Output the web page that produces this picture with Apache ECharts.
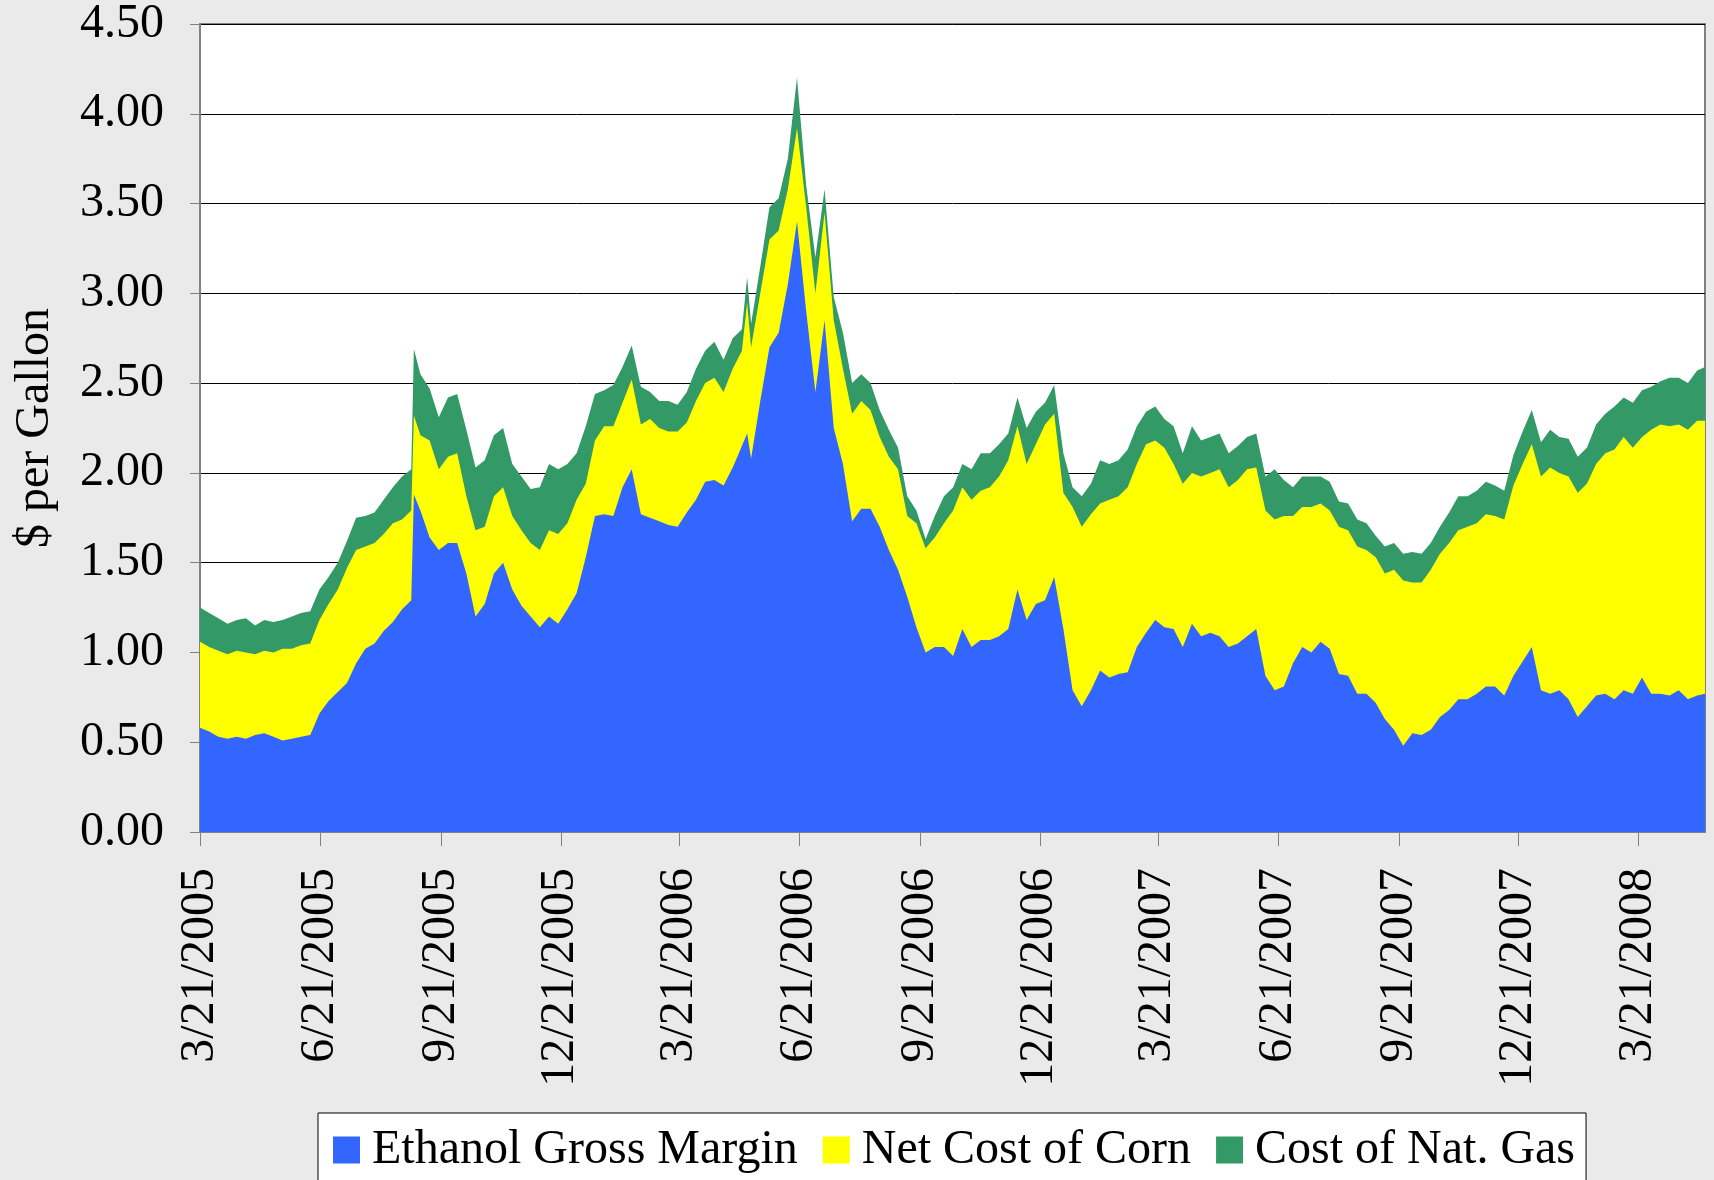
<!DOCTYPE html>
<html>
<head>
<meta charset="utf-8">
<script src="https://cdn.jsdelivr.net/npm/echarts@6/dist/echarts.min.js"></script>
<style>
  html, body { margin: 0; padding: 0; background: #eaeaea; }
  #chart { width: 1714px; height: 1180px; }
</style>
</head>
<body>
<div id="chart"></div>
<script>
// days since 3/21/2005 (weekly readings, plus a few spike days)
const startDate = [2005, 2, 21];
const dayOffsets = [0,7,14,21,28,35,42,49,56,63,70,77,84,91,98,105,112,119,126,133,140,147,154,161,163,
  168,175,182,189,196,203,210,217,224,231,238,245,252,259,266,273,280,287,294,301,308,315,322,329,336,
  343,350,357,364,371,378,385,392,399,406,413,417,420,427,434,441,448,455,462,469,476,483,490,497,504,
  511,518,525,532,539,546,553,560,567,574,581,588,595,602,609,616,623,630,637,644,651,658,665,672,679,
  686,693,700,707,714,721,728,735,742,749,756,763,770,777,784,791,798,805,812,819,826,833,840,847,854,
  861,868,875,882,889,896,903,910,917,924,931,938,945,952,959,966,973,980,987,994,1001,1008,1015,1022,
  1029,1036,1043,1050,1057,1064,1071,1078,1085,1092,1099,1106,1113,1120,1127,1134,1141,1147];

// top of each band ($ per gallon, cumulative)
const marginLevel = [0.58,0.56,0.53,0.52,0.53,0.52,0.54,0.55,0.53,0.51,
  0.52,0.53,0.54,0.66,0.73,0.78,0.83,0.94,1.02,1.05,
  1.12,1.17,1.24,1.29,1.88,
  1.79,1.64,1.57,1.61,1.61,1.44,
  1.20,1.27,1.44,1.50,1.35,1.26,1.20,1.14,1.20,1.16,
  1.24,1.33,1.53,1.76,1.77,1.76,1.92,2.02,1.77,1.75,
  1.73,1.71,1.70,1.78,1.85,1.95,1.96,1.93,2.03,2.15,2.22,
  2.08,2.40,2.70,2.78,3.05,3.40,2.90,2.45,2.85,2.25,
  2.05,1.73,1.80,1.80,1.70,1.57,1.46,1.31,1.14,1.00,
  1.03,1.03,0.98,1.13,1.03,1.07,1.07,1.09,1.13,1.35,
  1.18,1.27,1.29,1.42,1.13,0.79,0.70,0.79,0.90,0.86,
  0.88,0.89,1.03,1.11,1.18,1.14,1.13,1.03,1.16,1.09,
  1.11,1.09,1.03,1.05,1.09,1.13,0.87,0.79,0.81,0.94,
  1.03,1.00,1.06,1.02,0.88,0.87,0.77,0.77,0.72,0.63,
  0.57,0.48,0.55,0.54,0.57,0.64,0.68,0.74,0.74,0.77,
  0.81,0.81,0.76,0.87,0.95,1.03,0.79,0.77,0.79,0.74,
  0.64,0.70,0.76,0.77,0.74,0.79,0.77,0.86,0.77,0.77,
  0.76,0.79,0.74,0.76,0.77];

const cornLevel = [1.06,1.03,1.01,0.99,1.01,1.00,0.99,1.01,1.00,1.02,
  1.02,1.04,1.05,1.18,1.27,1.35,1.47,1.57,1.59,1.61,
  1.66,1.72,1.74,1.79,2.32,
  2.21,2.18,2.02,2.09,2.11,1.87,
  1.68,1.70,1.87,1.92,1.76,1.68,1.61,1.57,1.68,1.66,
  1.72,1.85,1.94,2.18,2.26,2.26,2.39,2.52,2.27,2.30,
  2.25,2.23,2.23,2.28,2.40,2.50,2.53,2.45,2.58,2.68,2.95,
  2.70,3.00,3.30,3.35,3.58,3.92,3.48,3.00,3.45,2.85,
  2.58,2.33,2.40,2.35,2.20,2.09,2.02,1.76,1.72,1.58,
  1.64,1.72,1.79,1.92,1.85,1.90,1.92,1.98,2.07,2.26,
  2.05,2.16,2.27,2.33,1.89,1.81,1.70,1.77,1.83,1.85,
  1.87,1.92,2.05,2.16,2.18,2.14,2.05,1.94,2.00,1.98,
  2.00,2.02,1.92,1.96,2.02,2.03,1.79,1.74,1.76,1.76,
  1.81,1.81,1.83,1.79,1.70,1.68,1.59,1.57,1.53,1.44,
  1.46,1.40,1.39,1.39,1.46,1.55,1.61,1.68,1.70,1.72,
  1.77,1.76,1.74,1.93,2.05,2.16,1.98,2.03,2.00,1.98,
  1.89,1.94,2.05,2.11,2.13,2.20,2.14,2.20,2.24,2.27,
  2.26,2.27,2.24,2.29,2.29];

const gasLevel = [1.25,1.22,1.19,1.16,1.18,1.19,1.15,1.18,1.17,1.18,
  1.20,1.22,1.23,1.35,1.42,1.50,1.62,1.75,1.76,1.78,
  1.85,1.92,1.98,2.02,2.69,
  2.55,2.47,2.31,2.42,2.44,2.24,
  2.03,2.07,2.21,2.25,2.05,1.98,1.91,1.92,2.05,2.02,
  2.05,2.11,2.26,2.44,2.46,2.49,2.59,2.71,2.48,2.45,
  2.40,2.40,2.38,2.45,2.58,2.68,2.73,2.63,2.75,2.80,3.09,
  2.83,3.15,3.48,3.53,3.75,4.20,3.60,3.20,3.58,2.98,
  2.78,2.50,2.55,2.50,2.35,2.24,2.14,1.87,1.79,1.63,
  1.76,1.87,1.92,2.05,2.02,2.11,2.11,2.16,2.22,2.42,
  2.25,2.34,2.39,2.49,2.11,1.92,1.87,1.94,2.07,2.05,
  2.07,2.13,2.26,2.34,2.37,2.30,2.26,2.11,2.26,2.18,
  2.20,2.22,2.11,2.15,2.20,2.22,1.98,2.02,1.96,1.92,
  1.98,1.98,1.98,1.95,1.84,1.83,1.74,1.72,1.65,1.59,
  1.61,1.55,1.56,1.55,1.61,1.70,1.78,1.87,1.87,1.90,
  1.95,1.93,1.90,2.10,2.23,2.35,2.17,2.24,2.20,2.19,
  2.09,2.14,2.27,2.33,2.37,2.42,2.39,2.46,2.48,2.51,
  2.53,2.53,2.50,2.57,2.59];

const tickLabels = ['3/21/2005','6/21/2005','9/21/2005','12/21/2005','3/21/2006','6/21/2006',
  '9/21/2006','12/21/2006','3/21/2007','6/21/2007','9/21/2007','12/21/2007','3/21/2008'];

const seriesNames = ['Ethanol Gross Margin', 'Net Cost of Corn', 'Cost of Nat. Gas'];
const colors = ['#3366ff', '#ffff00', '#339966'];
const levels = [marginLevel, cornLevel, gasLevel];

const font = 'Liberation Serif, Times New Roman, serif';

const DAY = 86400000;
const t0 = Date.UTC(startDate[0], startDate[1], startDate[2]);
function labelToDay(s) {
  const p = s.split('/');
  return Math.round((Date.UTC(+p[2], +p[0] - 1, +p[1]) - t0) / DAY);
}
function dayToLabel(d) {
  const dt = new Date(t0 + d * DAY);
  return (dt.getUTCMonth() + 1) + '/' + dt.getUTCDate() + '/' + dt.getUTCFullYear();
}

const tickDays = tickLabels.map(labelToDay);

// bands are drawn back to front: gas top, then corn top, then margin on top of them
const drawOrder = [2, 1, 0];

const chart = echarts.init(document.getElementById('chart'));

chart.setOption({
  backgroundColor: '#eaeaea',
  animation: false,
  grid: {
    left: 200, right: 9, top: 23, bottom: 348,
    show: true,
    backgroundColor: '#ffffff',
    borderColor: '#808080',
    borderWidth: 2
  },
  legend: {
    data: seriesNames,
    left: 318,
    top: 1113,
    icon: 'rect',
    itemWidth: 27,
    itemHeight: 27,
    itemGap: 25,
    padding: [13, 11, 40, 15],
    backgroundColor: '#ffffff',
    borderColor: '#000000',
    borderWidth: 1,
    textStyle: { fontFamily: font, fontSize: 48, color: '#000', padding: [0, 0, 0, 7] }
  },
  xAxis: {
    type: 'value',
    min: 0,
    max: dayOffsets[dayOffsets.length - 1],
    axisLine: { lineStyle: { color: '#808080', width: 2 } },
    axisTick: { customValues: tickDays, length: 14, lineStyle: { color: '#808080' } },
    axisLabel: {
      customValues: tickDays,
      rotate: 90,
      margin: 36,
      fontFamily: font,
      fontSize: 48,
      color: '#000',
      formatter: v => dayToLabel(v)
    },
    splitLine: { show: false }
  },
  yAxis: {
    type: 'value',
    min: 0,
    max: 4.5,
    interval: 0.5,
    name: '$ per Gallon',
    nameLocation: 'middle',
    nameGap: 141,
    nameTextStyle: { fontFamily: font, fontSize: 48, color: '#000' },
    axisLine: { show: true, lineStyle: { color: '#808080', width: 2 } },
    axisTick: { show: true, length: 10, lineStyle: { color: '#808080' } },
    axisLabel: {
      margin: 36,
      fontFamily: font,
      fontSize: 48,
      color: '#000',
      formatter: v => v.toFixed(2)
    },
    splitLine: { lineStyle: { color: '#000', width: 1 } }
  },
  series: drawOrder.map(s => ({
    name: seriesNames[s],
    type: 'line',
    symbol: 'none',
    lineStyle: { width: 0 },
    itemStyle: { color: colors[s] },
    areaStyle: { color: colors[s], opacity: 1 },
    data: dayOffsets.map((d, i) => [d, levels[s][i]])
  }))
});
</script>
</body>
</html>
